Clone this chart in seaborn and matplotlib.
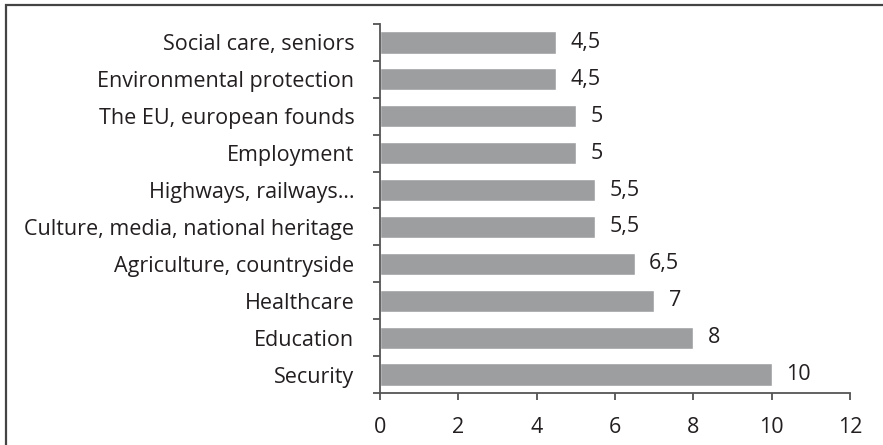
import matplotlib
matplotlib.use("Agg")
import matplotlib.pyplot as plt
import seaborn as sns
import pandas as pd
from matplotlib.patches import Rectangle

# data (top to bottom as shown)
categories = ["Social care, seniors", "Environmental protection", "The EU, european founds",
              "Employment", "Highways, railways\u2026", "Culture, media, national heritage",
              "Agriculture, countryside", "Healthcare", "Education", "Security"]
values = [4.5, 4.5, 5, 5, 5.5, 5.5, 6.5, 7, 8, 10]
xticks = [0, 2, 4, 6, 8, 10, 12]

df = pd.DataFrame({"category": categories, "value": values})

sns.set_style("white")
plt.rcParams["font.family"] = ["Open Sans", "DejaVu Sans"]

fig = plt.figure(figsize=(8.83, 4.45), dpi=100)
ax = fig.add_axes([380 / 883, 52 / 445, 470 / 883, 369 / 445])

sns.barplot(data=df, x="value", y="category", orient="h", color="#9d9ea0",
            saturation=1, width=0.6, ax=ax)

ax.set_xlim(0, 12)
ax.set_ylim(9.5, -0.5)
ax.set_xticks(xticks)
ax.set_xticklabels([str(t) for t in xticks])
ax.set_xlabel("")
ax.set_ylabel("")

# ticks on the category boundaries
ax.set_yticks([i - 0.5 for i in range(len(categories) + 1)], minor=True)
ax.tick_params(axis="y", which="major", left=True, length=0, pad=18.5, labelsize=15.5,
               colors="#231f20")
ax.tick_params(axis="y", which="minor", left=True, length=5.2, width=1.2, color="#444444",
               direction="out")
ax.tick_params(axis="x", which="major", bottom=True, length=5.2, width=1.2, color="#444444",
               direction="out", pad=12, labelsize=15.5, labelcolor="#231f20")

for side in ["top", "right"]:
    ax.spines[side].set_visible(False)
for side in ["left", "bottom"]:
    ax.spines[side].set_color("#555555")
    ax.spines[side].set_linewidth(1.3)

for i, v in enumerate(values):
    lab = str(v).replace(".", ",") if v % 1 else str(int(v))
    ax.annotate(lab, (v, i), xytext=(10.5, 0), textcoords="offset points",
                va="center", ha="left", fontsize=15.5, color="#231f20")

# outer frame
fig.patches.append(Rectangle((6 / 883, -0.1), 2.0, (440 / 445) + 0.1, transform=fig.transFigure,
                             fill=False, edgecolor="#444444", linewidth=1.6))

fig.savefig("out.png", dpi=100)
